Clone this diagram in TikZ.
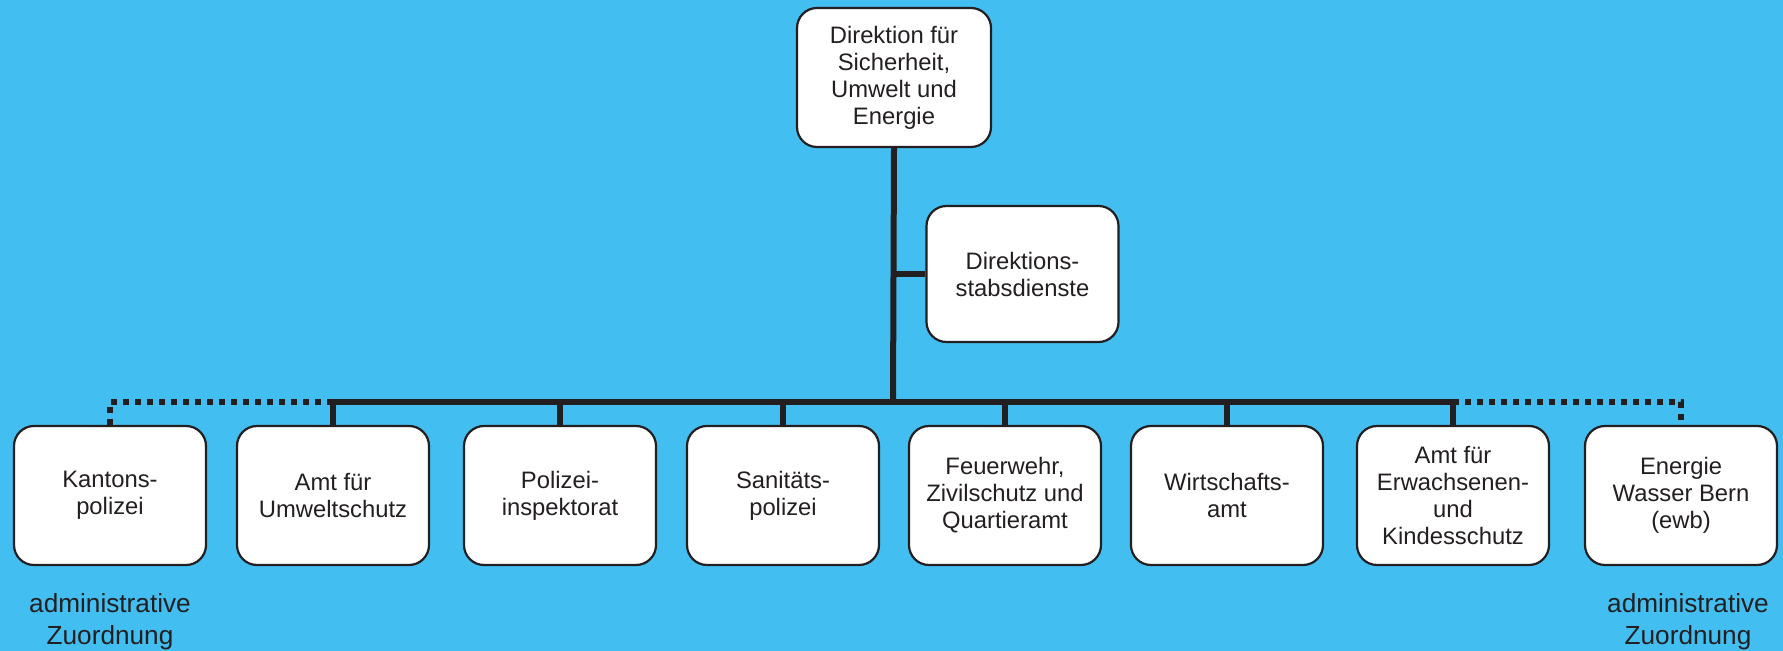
\documentclass[tikz,border=0pt]{standalone}
\usepackage{fontspec}
\setmainfont{Liberation Sans}
\definecolor{bgblue}{RGB}{66, 190, 240}
\definecolor{ink}{RGB}{35, 31, 32}
\usetikzlibrary{calc}

\tikzset{
  orgbox/.style={draw=ink, line width=1.1pt, fill=white, rounded corners=10pt,
    minimum width=96pt, minimum height=69.5pt, align=center, inner sep=2pt,
    text=ink, font=\fontsize{11.9}{13.5}\selectfont},
  orgline/.style={draw=ink, line width=3pt},
  adminline/.style={draw=ink, line width=3pt, dash pattern=on 3pt off 3pt},
  adminlabel/.style={align=center, inner sep=0pt, text=ink,
    font=\fontsize{13.1}{16}\selectfont}
}

\begin{document}
\begin{tikzpicture}[x=0.5pt, y=-0.5pt]
  % background
  \fill[bgblue] (0,0) rectangle (1783,651);
  \useasboundingbox (0,0) rectangle (1783,651);

  % top and staff
  \node[orgbox, minimum width=97pt] (dir) at (894,77.5) {Direktion für\\Sicherheit,\\Umwelt und\\Energie};
  \node[orgbox, minimum height=68pt] (stab) at (1022.5,274) {Direktions-\\stabsdienste};
  \coordinate (bus) at (893,402);

  % offices
  \node[orgbox] (kapo)   at (110,495.5)  {Kantons-\\polizei};
  \node[orgbox] (afu)    at (333,495.5)  {Amt für\\Umweltschutz};
  \node[orgbox] (pi)     at (560,495.5)  {Polizei-\\inspektorat};
  \node[orgbox] (sanpol) at (783,495.5)  {Sanitäts-\\polizei};
  \node[orgbox] (fsq)    at (1005,495.5) {Feuerwehr,\\Zivilschutz und\\Quartieramt};
  \node[orgbox] (wa)     at (1227,495.5) {Wirtschafts-\\amt};
  \node[orgbox] (kes)    at (1453,495.5) {Amt für\\Erwachsenen-\\und\\Kindesschutz};
  \node[orgbox] (ewb)    at (1681,495.5) {Energie\\Wasser Bern\\(ewb)};

  \node[adminlabel] (lblkapo) at (110,622)  {administrative\\Zuordnung};
  \node[adminlabel] (lblewb)  at (1688,622) {administrative\\Zuordnung};

  % connectors
  \draw[orgline] (dir.south) -- ([xshift=-0.5pt]dir.south |- bus);
  \draw[orgline] (stab.west) -- (stab.west -| bus);
  \draw[orgline] (afu.north |- bus) -- (kes.north |- bus);
  \foreach \n in {afu, pi, sanpol, fsq, wa, kes}
    \draw[orgline] (\n.north |- bus) -- (\n.north);
  \draw[adminline] (afu.north |- bus) -- (kapo.north |- bus) -- (kapo.north);
  \draw[adminline] (kes.north |- bus) -- (ewb.north |- bus) -- (ewb.north);
\end{tikzpicture}
\end{document}
